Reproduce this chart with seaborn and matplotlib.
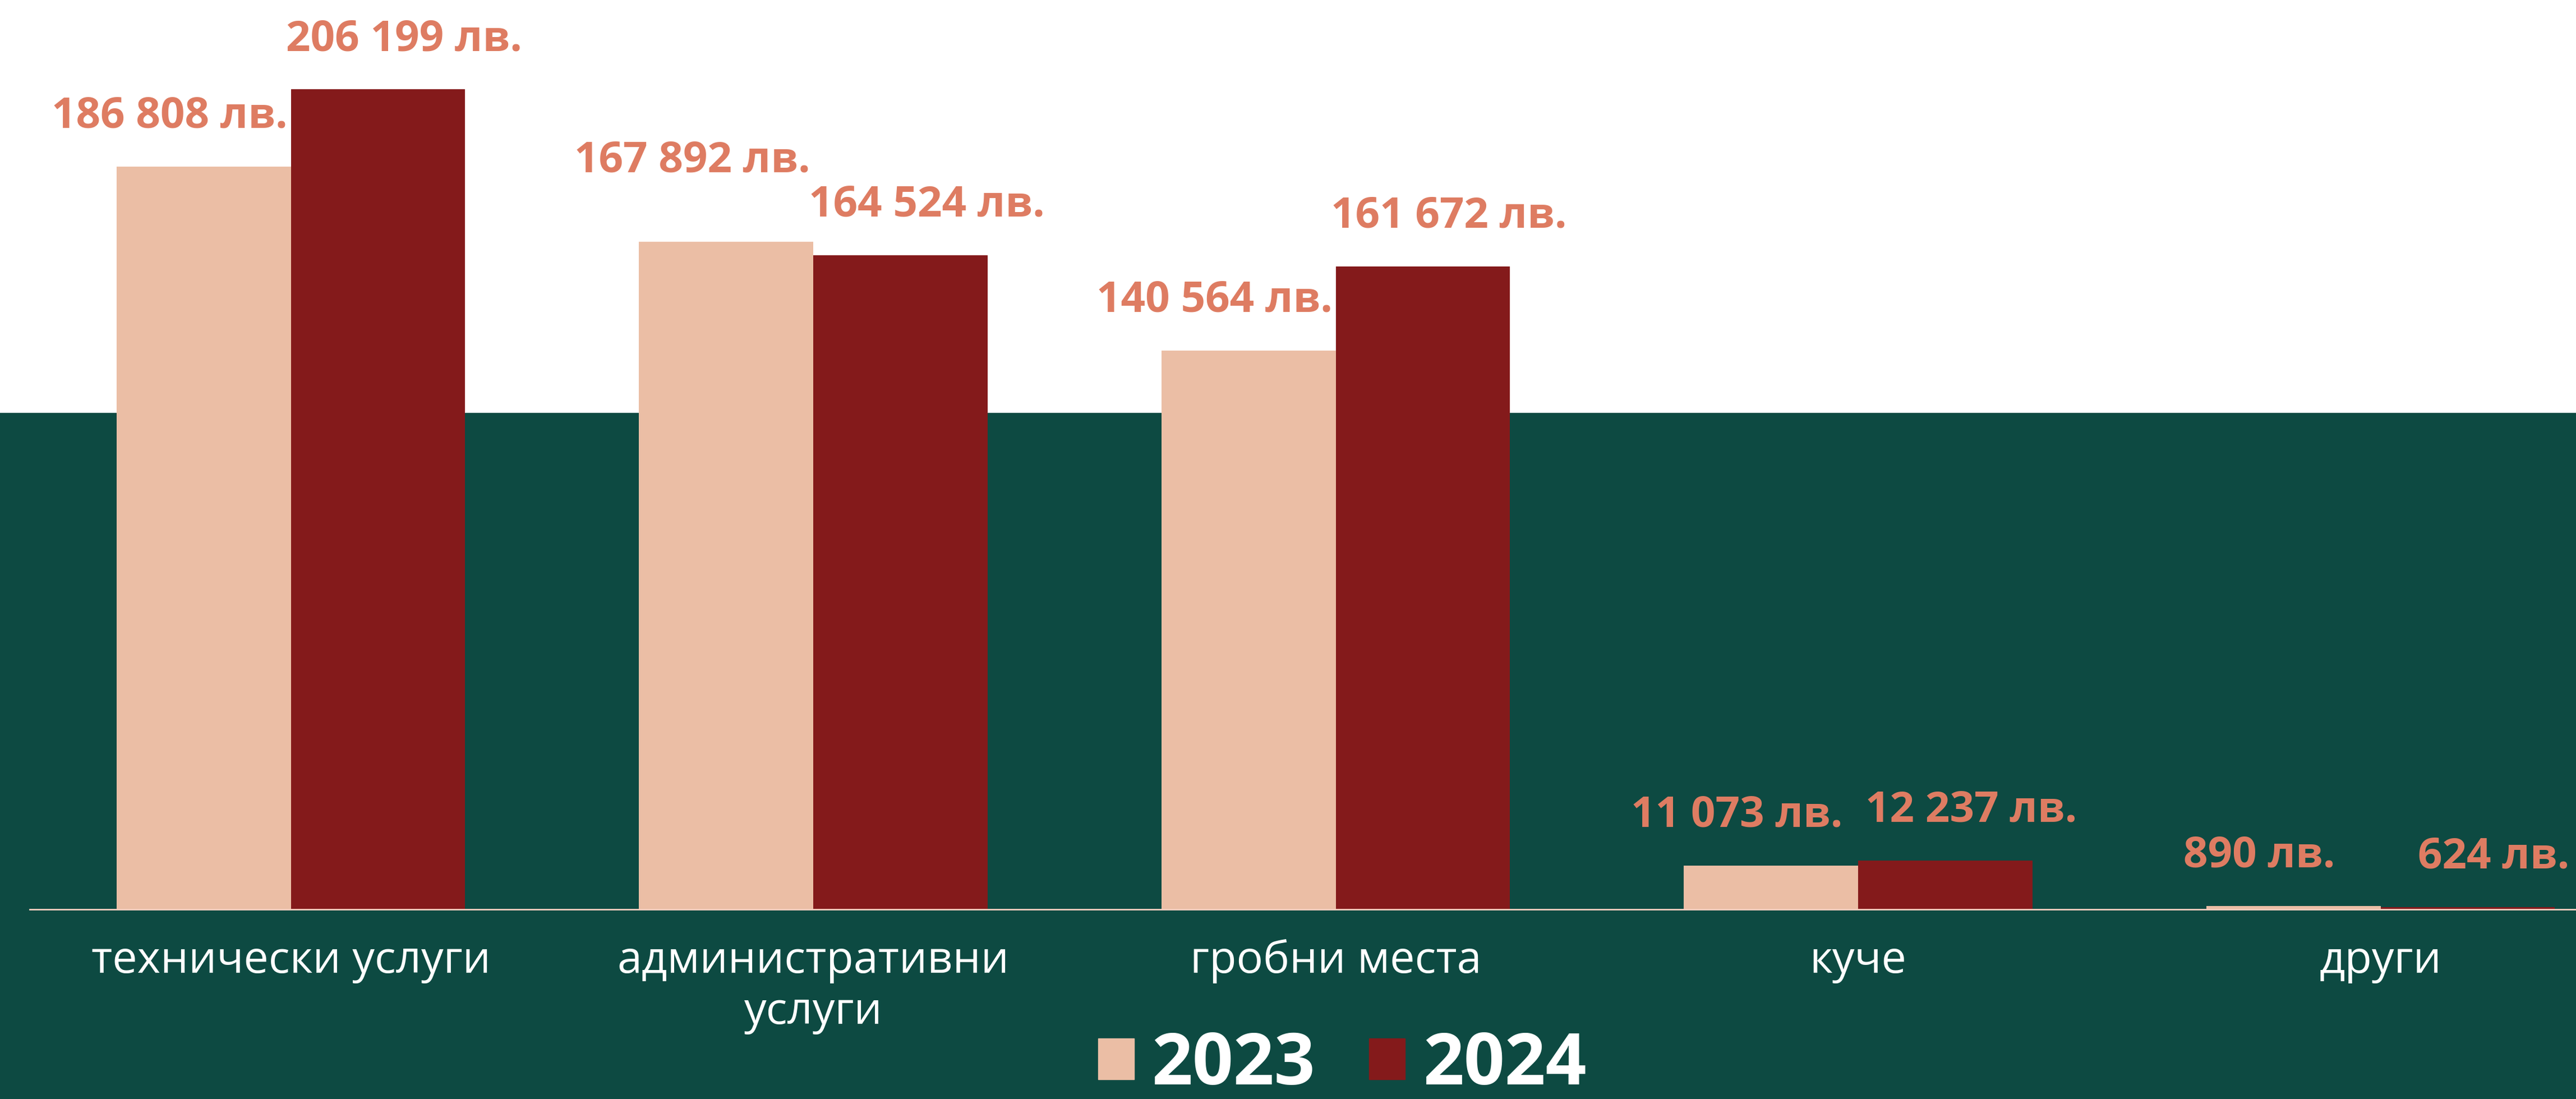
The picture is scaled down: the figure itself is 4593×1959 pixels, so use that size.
import numpy as np
import pandas as pd
import matplotlib
matplotlib.use('Agg')
import matplotlib.pyplot as plt
import matplotlib.patches as mpatches
import seaborn as sns

categories = ["технически услуги", "административни\nуслуги", "гробни места", "куче", "други"]
years = ["2023", "2024"]
values_2023 = [186808, 167892, 140564, 11073, 890]
values_2024 = [206199, 164524, 161672, 12237, 624]

GREEN = "#0D4A42"
PINK = "#EBBEA5"
DARK_RED = "#841A1B"
LABEL = "#DE7C62"
AXIS = "#F2CFC0"

df = pd.DataFrame({
    "category": categories * 2,
    "year": [years[0]] * len(categories) + [years[1]] * len(categories),
    "value": values_2023 + values_2024,
})

sns.set_theme(style="white")
plt.rcParams['font.family'] = ['Open Sans', 'DejaVu Sans']

fig = plt.figure(figsize=(45.93, 19.59), dpi=100)
fig.patch.set_facecolor("white")
# green band behind the lower part of the chart
fig.patches.append(mpatches.Rectangle((0, 0), 1, 0.6243, transform=fig.transFigure,
                                      facecolor=GREEN, edgecolor="none", zorder=-10))

ax = fig.add_axes([0.0115, 0.1725, 0.9885, 0.8275])
ax.set_facecolor("none")
ax.set_zorder(1)

sns.barplot(data=df, x="category", y="value", hue="year", order=categories,
            hue_order=years, palette=[PINK, DARK_RED], width=0.667,
            saturation=1, linewidth=0, ax=ax, legend=False)

ax.set_xlim(-0.5, 4.374)
ax.set_ylim(0, 228700)
ax.set_xlabel("")
ax.set_ylabel("")
ax.set_yticks([])
for side in ["top", "left", "right"]:
    ax.spines[side].set_visible(False)
ax.spines["bottom"].set_color(AXIS)
ax.spines["bottom"].set_linewidth(2)
ax.tick_params(axis="x", length=0, pad=38, labelsize=57, colors="white")

def fmt(v):
    return f"{v:,}".replace(",", " ") + " лв."

shifts = {0: -0.065, 1: 0.05}
c23, c24 = ax.containers
for b23, b24 in zip(c23, c24):
    h23, h24 = b23.get_height(), b24.get_height()
    # lift the 2023 label when its bar is the taller one, so the pair doesn't collide
    lift23 = 40 if h23 > h24 and h23 > 50000 else 0
    for i, (bar, lift) in enumerate([(b23, lift23), (b24, 0)]):
        h = bar.get_height()
        x = bar.get_x() + bar.get_width() / 2 + shifts[i]
        ax.annotate(fmt(int(round(h))), (x, h), xytext=(0, 64 + lift), textcoords="offset points",
                    ha="center", va="center", fontsize=55, fontweight="bold", color=LABEL)

handles = [mpatches.Patch(color=PINK, label=years[0]),
           mpatches.Patch(color=DARK_RED, label=years[1])]
leg = fig.legend(handles=handles, loc="center", bbox_to_anchor=(0.521, 0.03), ncol=2,
                 frameon=False, handlelength=0.5, handleheight=0.5, handletextpad=0.25,
                 columnspacing=0.75, prop={"size": 92, "weight": "bold"})
for t in leg.get_texts():
    t.set_color("white")

fig.savefig("out.png", dpi=100, facecolor=fig.get_facecolor())
